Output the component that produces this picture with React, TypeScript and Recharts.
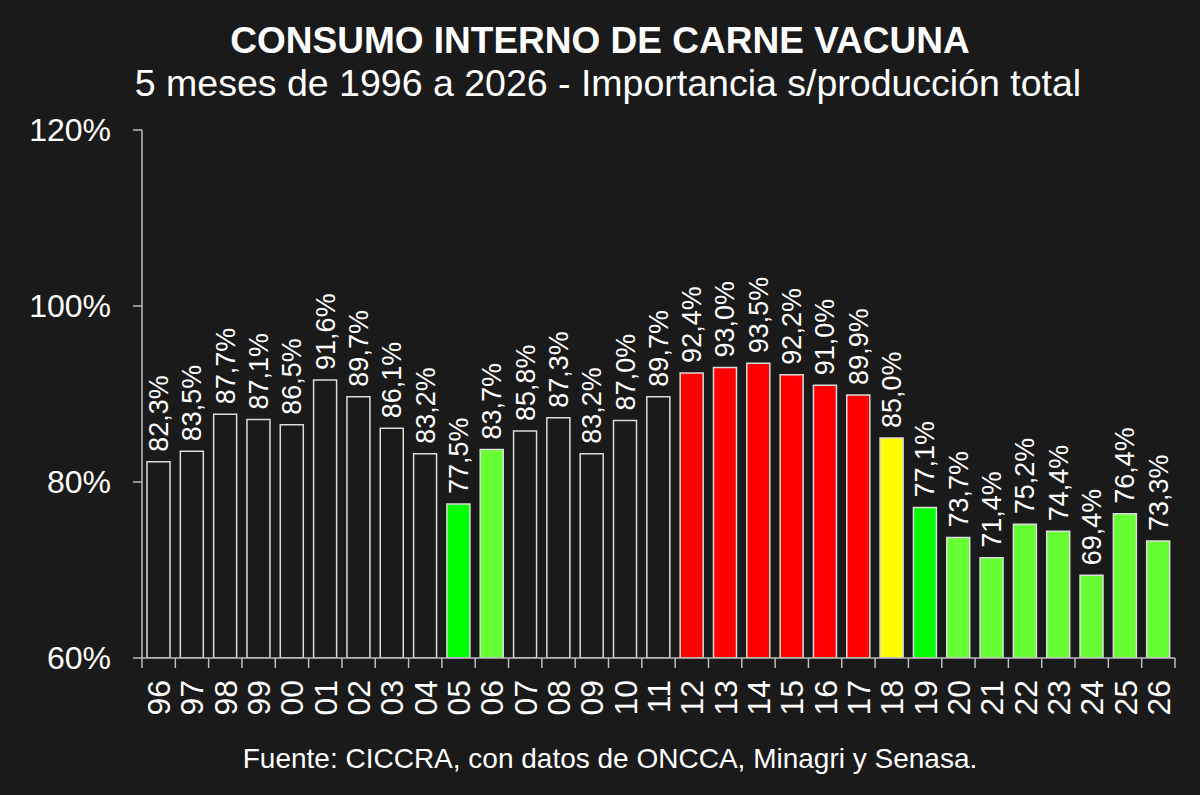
import React from "react";
import { BarChart, Bar, XAxis, YAxis, Cell, LabelList } from "recharts";

const years = ["96","97","98","99","00","01","02","03","04","05","06","07","08","09","10","11","12","13","14","15","16","17","18","19","20","21","22","23","24","25","26"];
const shares = [82.3,83.5,87.7,87.1,86.5,91.6,89.7,86.1,83.2,77.5,83.7,85.8,87.3,83.2,87.0,89.7,92.4,93.0,93.5,92.2,91.0,89.9,85.0,77.1,73.7,71.4,75.2,74.4,69.4,76.4,73.3];
// colour group per year: n = neutral outline, g = bright green, l = light green, r = red, y = yellow
const groups = ["n","n","n","n","n","n","n","n","n","g","l","n","n","n","n","n","r","r","r","r","r","r","y","g","l","l","l","l","l","l","l"];
const yTicks = [60, 80, 100, 120];

const BG = "#1a1a1a";
const FILLS: Record<string, string> = { n: BG, g: "#00ff00", l: "#66ff33", r: "#ff0000", y: "#ffff00" };
const FONT = "'Liberation Sans', Arial, Helvetica, sans-serif";

const W = 1200, H = 795;
const M = { top: 130, right: 25, bottom: 0, left: 0 };
const Y_W = 142;
const X_H = 137;
const PLOT_W = W - M.left - M.right - Y_W;
const BAND = PLOT_W / years.length;

const data = years.map((y, i) => ({ year: y, v: shares[i], g: groups[i] }));

const fmt = (v: number) => v.toFixed(1).replace(".", ",") + "%";

const XTick = (props: any) => {
  const { x, y, payload, index } = props;
  const tx = x + 11.5;
  const ty = y + 22;
  return (
    <g>
      <line x1={x - BAND / 2} x2={x - BAND / 2} y1={y} y2={y + 10} stroke="#bdbdbd" strokeWidth={1.5} />
      {index === years.length - 1 && (
        <line x1={x + BAND / 2} x2={x + BAND / 2} y1={y} y2={y + 10} stroke="#bdbdbd" strokeWidth={1.5} />
      )}
      <text x={tx} y={ty} transform={`rotate(-90, ${tx}, ${ty})`} textAnchor="end" fill="#ffffff" fontSize={32} fontFamily={FONT}>
        {payload.value}
      </text>
    </g>
  );
};

const ValueLabel = (props: any) => {
  const { x, y, width, value } = props;
  const tx = x + width / 2 + 9.5;
  const ty = y - 10;
  return (
    <text x={tx} y={ty} transform={`rotate(-90, ${tx}, ${ty})`} textAnchor="start" fill="#ffffff" fontSize={27} fontFamily={FONT}>
      {fmt(value)}
    </text>
  );
};

export default function App() {
  return (
    <div style={{ position: "relative", width: W, height: H, background: BG }}>
      <style>{`body{margin:0;background:${BG};}`}</style>
      <BarChart width={W} height={H} data={data} margin={M}>
        <YAxis
          type="number"
          domain={[60, 120]}
          ticks={yTicks}
          allowDataOverflow
          width={Y_W}
          tickFormatter={(v: number) => v + "%"}
          tick={{ fill: "#ffffff", fontSize: 32, fontFamily: FONT }}
          tickSize={9}
          tickMargin={22}
          axisLine={{ stroke: "#bdbdbd", strokeWidth: 1.5 }}
          tickLine={{ stroke: "#bdbdbd", strokeWidth: 1.5 }}
        />
        <XAxis
          dataKey="year"
          interval={0}
          height={X_H}
          tickSize={0}
          tickMargin={0}
          tickLine={false}
          axisLine={{ stroke: "#bdbdbd", strokeWidth: 1.5 }}
          tick={<XTick />}
        />
        <Bar dataKey="v" barSize={23} stroke="#dcdcdc" strokeWidth={1.5} isAnimationActive={false}>
          {data.map((d, i) => (
            <Cell key={i} fill={FILLS[d.g]} />
          ))}
          <LabelList dataKey="v" content={<ValueLabel />} />
        </Bar>
      </BarChart>
      <svg width={W} height={H} style={{ position: "absolute", left: 0, top: 0, pointerEvents: "none" }}>
        <text x={600} y={53} textAnchor="middle" fill="#ffffff" fontSize={37} fontWeight="bold" fontFamily={FONT}>
          CONSUMO INTERNO DE CARNE VACUNA
        </text>
        <text x={608} y={96} textAnchor="middle" fill="#ffffff" fontSize={37.5} fontFamily={FONT}>
          5 meses de 1996 a 2026 - Importancia s/producción total
        </text>
        <text x={610} y={768} textAnchor="middle" fill="#ffffff" fontSize={28} fontFamily={FONT}>
          Fuente: CICCRA, con datos de ONCCA, Minagri y Senasa.
        </text>
      </svg>
    </div>
  );
}
